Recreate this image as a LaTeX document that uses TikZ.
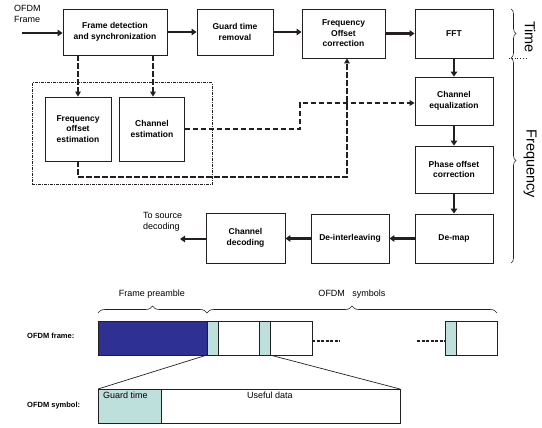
\documentclass[tikz,border=0pt]{standalone}
\usepackage{fontspec}
\setmainfont{Liberation Sans}
\usetikzlibrary{arrows.meta,decorations.pathreplacing}
\definecolor{navy}{RGB}{46,49,146}
\definecolor{gcyan}{RGB}{190,224,221}
\definecolor{ink}{RGB}{35,31,32}
\begin{document}
\begin{tikzpicture}[x=1pt,y=-1pt,
  blk/.style={draw=ink,line width=0.8pt,align=center,font=\fontsize{8.5}{10.5}\selectfont\bfseries,inner sep=1pt},
  arr/.style={draw=ink,line width=2.5pt,-{Triangle[length=5pt,width=6.5pt]}},
  darr/.style={draw=ink,line width=1.6pt,dash pattern=on 5.5pt off 2.5pt,-{Triangle[length=5pt,width=5.5pt]}},
  lbl/.style={font=\fontsize{9}{11}\selectfont,align=left,inner sep=0pt},
  blbl/.style={font=\fontsize{7.5}{9}\selectfont\bfseries,inner sep=0pt},
  cell/.style={draw=ink,line width=0.7pt},
  brc/.style={draw=ink,line width=0.6pt,decorate}
]
\useasboundingbox (0,0) rectangle (542,428);
% top blocks
\node[blk,minimum width=104pt,minimum height=46pt] (b1) at (115,32) {Frame detection\\and synchronization};
\node[blk,minimum width=76pt,minimum height=46pt] (b2) at (235,32) {Guard time\\removal};
\node[blk,minimum width=83pt,minimum height=49pt] (b3) at (343.5,33.5) {Frequency\\Offset\\correction};
\node[blk,minimum width=78pt,minimum height=49pt] (b4) at (454,33.5) {FFT};
\node[blk,minimum width=78pt,minimum height=48pt] (b5) at (454,101) {Channel\\equalization};
\node[blk,minimum width=78pt,minimum height=47pt] (b6) at (454,169.5) {Phase offset\\correction};
\node[blk,minimum width=78pt,minimum height=49pt] (b7) at (454,238.5) {De-map};
\node[blk,minimum width=78pt,minimum height=49pt] (b8) at (350,238.5) {De-interleaving};
\node[blk,minimum width=79pt,minimum height=50pt] (b9) at (245.5,238) {Channel\\decoding};
\node[blk,minimum width=66pt,minimum height=64pt] (b10) at (78,129) {Frequency\\offset\\estimation};
\node[blk,minimum width=65pt,minimum height=64pt] (b11) at (152,129) {Channel\\estimation};
\node[draw=ink,line width=1pt,dash pattern=on 3pt off 1pt on 1pt off 1pt,minimum width=180pt,minimum height=102pt,inner sep=0pt] (grp) at (122,134) {};
% labels
\node[lbl,anchor=north west] (inlbl) at (14,5) {OFDM\\Frame};
\node[lbl,anchor=north west] (outlbl) at (143,212) {To source\\decoding};
\coordinate (in) at (22,33);
\coordinate (out) at (180,239);
% solid arrows
\draw[arr] (in) -- (in -| b1.west);
\draw[arr] (b1.east) -- (b1.east -| b2.west);
\draw[arr] (b2.east) -- (b2.east -| b3.west);
\draw[arr] (b3.east) -- (b3.east -| b4.west);
\draw[arr] (b4.south) -- (b5.north);
\draw[arr] (b5.south) -- (b6.north);
\draw[arr] (b6.south) -- (b7.north);
\draw[arr] (b7.west) -- (b8.east);
\draw[arr] (b8.west) -- (b8.west -| b9.east);
\draw[arr] (b9.west |- out) -- (out);
% dashed arrows
\draw[darr] (b1.south -| b10.north) -- (b10.north);
\draw[darr] ([xshift=1pt]b1.south -| b11.north) -- ([xshift=1pt]b11.north);
\coordinate (cA) at (300,103);
\draw[darr] (b11.east) -| (cA) -- (cA -| b5.west);
\coordinate (cB) at (347,177);
\draw[darr] (b10.south) |- (cB) -- (cB |- b3.south);
% braces right
\draw[brc,decoration={brace,amplitude=5pt}] (511,9) -- (511,58);
\draw[brc,decoration={brace,amplitude=5pt}] (511,58) -- (511,263);
\draw[ink,line width=0.8pt,dotted] (509,58) -- (528,58);
\node[font=\fontsize{14.5}{14.5}\selectfont,rotate=-90,inner sep=0pt] (tlbl) at (530,37) {Time};
\node[font=\fontsize{14.5}{14.5}\selectfont,rotate=-90,inner sep=0pt] (flbl) at (530,164) {Frequency};
% frame structure
\node[lbl,anchor=center] (pre) at (152,294) {Frame preamble};
\node[lbl,anchor=center] (sym) at (352,294) {OFDM\ \ \ symbols};
\draw[brc,decoration={brace,amplitude=7pt}] (98,313) -- (207,313);
\draw[brc,decoration={brace,amplitude=7pt}] (207,313) -- (497,313);
\node[blbl,anchor=west] (fr) at (27,336) {OFDM frame:};
\draw[cell,fill=navy] (98,321) rectangle (207,355);
\draw[cell,fill=gcyan] (207,321) rectangle (218,355);
\draw[cell,fill=white] (218,321) rectangle (259,355);
\draw[cell,fill=gcyan] (259,321) rectangle (270,355);
\draw[cell,fill=white] (270,321) rectangle (312,355);
\draw[ink,line width=1.6pt,dash pattern=on 3pt off 1.5pt] (312,341) -- (340,341);
\draw[ink,line width=1.6pt,dash pattern=on 3pt off 1.5pt] (417,341) -- (445,341);
\draw[cell,fill=gcyan] (445,321) rectangle (456,355);
\draw[cell,fill=white] (456,321) rectangle (497,355);
\draw[ink,line width=0.7pt] (207,355) -- (98,389);
\draw[ink,line width=0.7pt] (270,355) -- (400,389);
\draw[cell,fill=gcyan] (98,389) rectangle (161,423);
\draw[cell,fill=white] (161,389) rectangle (400,423);
\node[lbl,anchor=north west] (gt) at (103,392) {Guard time};
\node[lbl,anchor=north] (ud) at (270,392) {Useful data};
\node[blbl,anchor=west] (sy) at (27,406) {OFDM symbol:};
\end{tikzpicture}
\end{document}
